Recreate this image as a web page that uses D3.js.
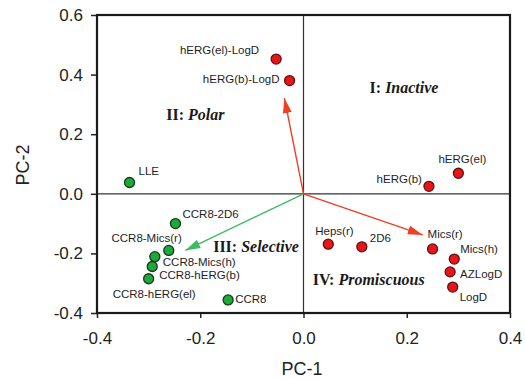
<!DOCTYPE html>
<html><head><meta charset="utf-8">
<script src="https://cdn.jsdelivr.net/npm/d3@7/dist/d3.min.js"></script>
<style>body{margin:0;background:#fff}svg{display:block}</style>
</head><body>
<svg id="c" width="525" height="379"></svg>
<script>
// ---- data ----
const names = ["hERG(el)-LogD","hERG(b)-LogD","hERG(el)","hERG(b)","LLE","CCR8-2D6","CCR8-Mics(r)","CCR8-Mics(h)","CCR8-hERG(b)","CCR8-hERG(el)","CCR8","Heps(r)","2D6","Mics(r)","Mics(h)","AZLogD","LogD"];
const pc1 = [-0.053,-0.027,0.300,0.243,-0.337,-0.248,-0.261,-0.288,-0.293,-0.300,-0.146,0.048,0.113,0.250,0.292,0.284,0.289];
const pc2 = [0.452,0.380,0.069,0.025,0.038,-0.100,-0.190,-0.211,-0.244,-0.285,-0.356,-0.169,-0.178,-0.185,-0.219,-0.262,-0.313];
const groups = ["red","red","red","red","green","green","green","green","green","green","green","red","red","red","red","red","red"];
// label offsets (pixels) and anchors
const labelDx = [-17,-10,-20,-7,9,7,13,8,7,-36,7,-13,8,-5,6,10,7];
const labelDy = [-5,2.7,-10,-3,-7,-6,-8,9,12.7,19,3.5,-9,-5,-11,-6,6,14];
const labelAnchor = ["end","end","start","end","start","start","end","start","start","start","start","start","start","start","start","start","start"];
const arrowX = [-0.037,0.231,-0.229];
const arrowY = [0.321,-0.138,-0.190];
const arrowColor = ["red","red","green"];
const xTicks = [-0.4,-0.2,0.0,0.2,0.4];
const yTicks = [-0.4,-0.2,0.0,0.2,0.4,0.6];
const quadNum = ["I:","II:","III:","IV:"];
const quadName = ["Inactive","Polar","Selective","Promiscuous"];
const quadX = [0.128,-0.266,-0.175,0.018];
const quadY = [0.338,0.246,-0.194,-0.307];

// ---- drawing ----
const svg = d3.select("#c");
const x = d3.scaleLinear().domain([-0.4,0.4]).range([97,510]);
const y = d3.scaleLinear().domain([-0.4,0.6]).range([313,15]);
const fmt = v => d3.format(".1f")(v).replace("\u2212","-");
const col = {red:"#e8161b", green:"#1fa83c"};
const strokeCol = {red:"#5b1410", green:"#0f3d18"};
const arrCol = {red:"#ec3f26", green:"#3cbb63"};

// crosshair lines
svg.append("line").attr("x1",x(0)).attr("x2",x(0)).attr("y1",y(0.6)).attr("y2",y(-0.4))
  .attr("stroke","#333").attr("stroke-width",1.2);
svg.append("line").attr("x1",x(-0.4)).attr("x2",x(0.4)).attr("y1",y(0)).attr("y2",y(0))
  .attr("stroke","#333").attr("stroke-width",1.2);

// axes
const ax = svg.append("g").attr("transform",`translate(0,${y(-0.4)})`)
  .call(d3.axisBottom(x).tickValues(xTicks).tickFormat(fmt).tickSize(5).tickPadding(14));
const ay = svg.append("g").attr("transform",`translate(${x(-0.4)},0)`)
  .call(d3.axisLeft(y).tickValues(yTicks).tickFormat(fmt).tickSize(6).tickPadding(8));
[ax,ay].forEach(g=>{
  g.select(".domain").remove();
  g.selectAll("line").attr("stroke","#222").attr("stroke-width",1.5);
  g.selectAll("text").attr("fill","#222").attr("font-family","Liberation Sans, Arial, sans-serif").attr("font-size",17);
});

// frame
svg.append("rect").attr("x",x(-0.4)).attr("y",y(0.6)).attr("width",x(0.4)-x(-0.4)).attr("height",y(-0.4)-y(0.6))
  .attr("fill","none").attr("stroke","#1a1a1a").attr("stroke-width",2.2);

// axis titles
svg.append("text").attr("x",302).attr("y",375).attr("text-anchor","middle")
  .attr("font-family","Liberation Sans, Arial, sans-serif").attr("font-size",18).attr("fill","#222").text("PC-1");
svg.append("text").attr("transform","translate(29,165) rotate(-90)").attr("text-anchor","middle")
  .attr("font-family","Liberation Sans, Arial, sans-serif").attr("font-size",18).attr("fill","#222").text("PC-2");

// arrows
const defs = svg.append("defs");
["red","green"].forEach(k=>{
  defs.append("marker").attr("id","ah-"+k).attr("viewBox","0 0 15 9").attr("refX",15).attr("refY",4.5)
    .attr("markerWidth",15).attr("markerHeight",9).attr("markerUnits","userSpaceOnUse").attr("orient","auto")
    .append("path").attr("d","M0,0 L15,4.5 L0,9 Z").attr("fill",arrCol[k]);
});
arrowX.forEach((ax_,i)=>{
  svg.append("line").attr("x1",x(0)).attr("y1",y(0)).attr("x2",x(ax_)).attr("y2",y(arrowY[i]))
    .attr("stroke",arrCol[arrowColor[i]]).attr("stroke-width",1.4).attr("marker-end",`url(#ah-${arrowColor[i]})`);
});

// quadrant labels
quadNum.forEach((n,i)=>{
  const t = svg.append("text").attr("x",x(quadX[i])).attr("y",y(quadY[i]))
    .attr("font-family","Liberation Serif, Times New Roman, serif").attr("font-size",16).attr("font-weight","bold").attr("fill","#1a1a1a");
  t.append("tspan").text(n+" ");
  t.append("tspan").attr("font-style","italic").text(quadName[i]);
});

// points
names.forEach((nm,i)=>{
  svg.append("circle").attr("cx",x(pc1[i])).attr("cy",y(pc2[i])).attr("r",5)
    .attr("fill",col[groups[i]]).attr("stroke",strokeCol[groups[i]]).attr("stroke-width",1.3);
  svg.append("text").attr("x",x(pc1[i])+labelDx[i]).attr("y",y(pc2[i])+labelDy[i])
    .attr("text-anchor",labelAnchor[i]).attr("font-family","Liberation Sans, Arial, sans-serif")
    .attr("font-size",11.5).attr("fill","#1e1e1e").text(nm);
});
</script>
</body></html>
